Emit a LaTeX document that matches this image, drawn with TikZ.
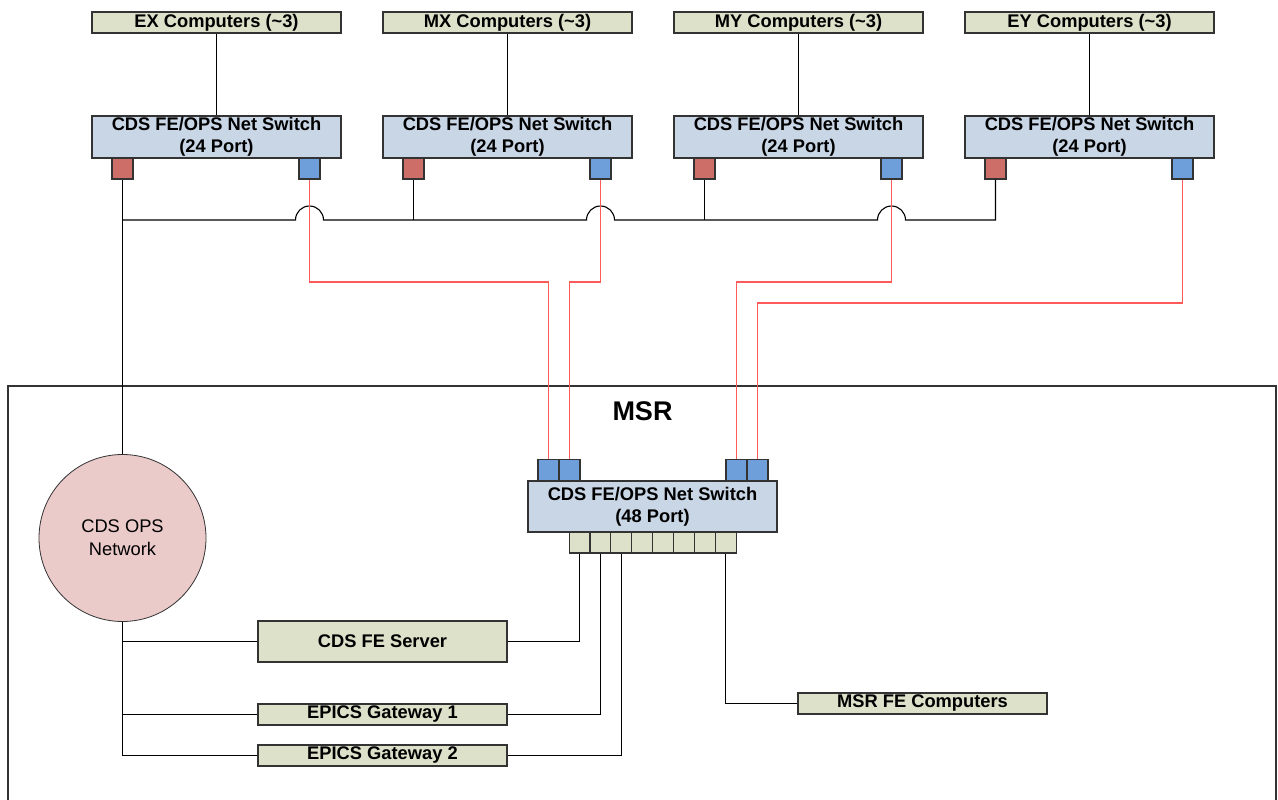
\documentclass[tikz,border=0pt]{standalone}
\usepackage{fontspec}
\setmainfont{Liberation Sans}
\usetikzlibrary{positioning,calc}
\definecolor{netInk}{HTML}{333333}
\definecolor{netCompFill}{HTML}{DDE1CA}
\definecolor{netSwitchFill}{HTML}{C9D6E6}
\definecolor{netRedPort}{HTML}{CD6F68}
\definecolor{netBluePort}{HTML}{6F9FDB}
\definecolor{netOpsFill}{HTML}{EBCACA}
\definecolor{netFiber}{HTML}{FF5A5A}
\tikzset{
  netComp/.style={fill=netCompFill,draw=netInk},
  netSwitch/.style={fill=netSwitchFill,draw=netInk},
  netRed/.style={fill=netRedPort,draw=netInk},
  netBlue/.style={fill=netBluePort,draw=netInk},
  netCopper/.style={draw=black,line width=1.1pt},
  netFiberEdge/.style={draw=netFiber,line width=1.4pt}
}

\begin{document}
\begin{tikzpicture}[x=1pt,y=1pt,line width=1.1pt,
  box/.style={inner sep=0pt,align=center,minimum width=249pt,
    font=\fontsize{18.3}{22}\selectfont\bfseries},
  port/.style={inner sep=0pt,minimum width=21pt,minimum height=21pt},
  cell/.style={netComp,inner sep=0pt,minimum width=20.9pt,minimum height=21pt}]
\useasboundingbox (0,0) rectangle (1278,-800);
% MSR room
\draw[netInk] (8,-800) |- (1276,-386) -- (1276,-800);
\node[font=\fontsize{27}{30}\selectfont\bfseries] (msr) at (642.5,-411.5) {MSR};
% end station computers
\node[box,netComp,minimum height=21pt] (cEX) at (216.5,-22.5) {EX Computers (\textasciitilde3)};
\node[box,netComp,minimum height=21pt] (cMX) at (507.5,-22.5) {MX Computers (\textasciitilde3)};
\node[box,netComp,minimum height=21pt] (cMY) at (798.5,-22.5) {MY Computers (\textasciitilde3)};
\node[box,netComp,minimum height=21pt] (cEY) at (1089.5,-22.5) {EY Computers (\textasciitilde3)};
% 24 port switches
\node[box,netSwitch,minimum height=42pt] (sEX) at (216.5,-137) {CDS FE/OPS Net Switch\\(24 Port)};
\node[box,netSwitch,minimum height=42pt] (sMX) at (507.5,-137) {CDS FE/OPS Net Switch\\(24 Port)};
\node[box,netSwitch,minimum height=42pt] (sMY) at (798.5,-137) {CDS FE/OPS Net Switch\\(24 Port)};
\node[box,netSwitch,minimum height=42pt] (sEY) at (1089.5,-137) {CDS FE/OPS Net Switch\\(24 Port)};
\node[port,netRed] (rEX) at (122.5,-168.5) {};
\node[port,netBlue] (bEX) at (309.5,-168.5) {};
\node[port,netRed] (rMX) at (413.5,-168.5) {};
\node[port,netBlue] (bMX) at (600.5,-168.5) {};
\node[port,netRed] (rMY) at (704.5,-168.5) {};
\node[port,netBlue] (bMY) at (891.5,-168.5) {};
\node[port,netRed] (rEY) at (995.5,-168.5) {};
\node[port,netBlue] (bEY) at (1182.5,-168.5) {};
% 48 port switch
\node[box,netSwitch,minimum height=51pt] (core) at (652.5,-506.5) {CDS FE/OPS Net Switch\\(48 Port)};
\node[port,netBlue] (p1) at (548.5,-470) {};
\node[port,netBlue] (p2) at (569.5,-470) {};
\node[port,netBlue] (p3) at (736.5,-470) {};
\node[port,netBlue] (p4) at (757.5,-470) {};
\foreach \i in {1,...,8}
  \node[cell] (q\i) at ({558.6+20.9*\i},-542.5) {};
% MSR hosts
\node[circle,fill=netOpsFill,draw=netInk,line width=0.8pt,minimum size=167pt,align=center,
  font=\fontsize{18.3}{23}\selectfont] (ops) at (122.5,-538) {CDS OPS\\Network};
\node[box,netComp,minimum height=41pt] (fesrv) at (382.5,-641.5) {CDS FE Server};
\node[box,netComp,minimum height=21pt] (gw1) at (382.5,-714.5) {EPICS Gateway 1};
\node[box,netComp,minimum height=21pt] (gw2) at (382.5,-755.5) {EPICS Gateway 2};
\node[box,netComp,minimum height=21pt] (msrfe) at (922.5,-703.5) {MSR FE Computers};
% copper links
\draw[netCopper] (cEX) -- (sEX);
\draw[netCopper] (cMX) -- (sMX);
\draw[netCopper] (cMY) -- (sMY);
\draw[netCopper] (cEY) -- (sEY);
\coordinate (bus) at (0,-220);
\draw[netCopper] (rEX) -- (ops);
\draw[netCopper] (rEX |- bus) -- ([xshift=-14pt]bEX |- bus) arc(180:0:14)
  -- ([xshift=-14pt]bMX |- bus) arc(180:0:14)
  -- ([xshift=-14pt]bMY |- bus) arc(180:0:14) -- (rEY |- bus) -- (rEY);
\draw[netCopper] (rMX) -- (rMX |- bus);
\draw[netCopper] (rMY) -- (rMY |- bus);
\draw[netCopper] (ops) |- (fesrv);
\draw[netCopper] (ops) |- (gw1);
\draw[netCopper] (ops) |- (gw2);
\draw[netCopper] (q1) |- (fesrv);
\draw[netCopper] (q2) |- (gw1);
\draw[netCopper] (q3) |- (gw2);
\draw[netCopper] (q8) |- (msrfe);
% fiber uplinks
\coordinate (fiberA) at (0,-282);
\coordinate (fiberB) at (0,-303);
\draw[netFiberEdge] (bEX) |- (p1 |- fiberA) -- (p1);
\draw[netFiberEdge] (bMX) |- (p2 |- fiberA) -- (p2);
\draw[netFiberEdge] (bMY) |- (p3 |- fiberA) -- (p3);
\draw[netFiberEdge] (bEY) |- (p4 |- fiberB) -- (p4);
\end{tikzpicture}
\end{document}
